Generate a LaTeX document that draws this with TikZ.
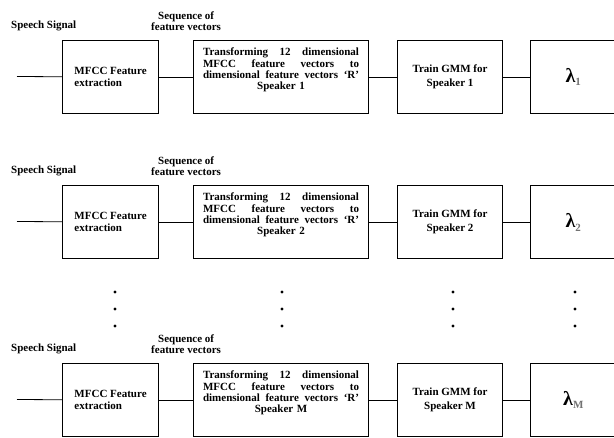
\documentclass[tikz,border=0pt]{standalone}
\usepackage{fontspec}
\setmainfont{Liberation Serif}
\usetikzlibrary{positioning}
\tikzset{
  blk/.style={draw,line width=1.1pt,minimum height=73pt,anchor=north west,inner sep=0pt},
  lbl/.style={font=\bfseries\fontsize{11}{11.4}\selectfont,align=center,inner sep=0pt},
  wire/.style={line width=0.8pt},
}

\begin{document}
\begin{tikzpicture}[x=1pt,y=-1pt]
\useasboundingbox (0,0) rectangle (614,438);
% one row per speaker
\foreach \r/\ty/\spk in {1/40/1,2/185/2,3/363/M}{
  \node[blk,minimum width=96pt,lbl,align=left] (mfcc\r) at (62,\ty) {MFCC Feature\\[1pt]extraction};
  \node[blk,minimum width=175pt] (trans\r) at (193,\ty) {};
  \node[lbl,text width=156pt] (transtxt\r) at ([yshift=7pt]trans\r.center)
    {\makebox[156pt]{Transforming\hfill 12\hfill dimensional}\\
     \makebox[156pt]{MFCC\hfill feature\hfill vectors\hfill to}\\
     \makebox[156pt]{dimensional\hfill feature\hfill vectors\hfill `R'}\\
     Speaker \spk};
  \node[blk,minimum width=105pt,lbl] (train\r) at (397,\ty) {Train GMM for\\[2.5pt]Speaker \spk};
  \node[blk,minimum width=86pt,font=\bfseries] (lam\r) at (530,\ty)
    {{\fontsize{20}{20}\selectfont λ}\textsubscript{\fontsize{11}{11}\selectfont\textcolor{black!55}{\spk}}};
  \coordinate (in\r) at (17,\ty+36.5);
  \node[lbl,anchor=south west] (sig\r) at (11,\ty-9) {Speech Signal};
  \node[lbl,anchor=south] (seq\r) at ([xshift=27pt,yshift=9pt]mfcc\r.north east) {Sequence of\\feature vectors};
  \draw[wire] (in\r) -- (mfcc\r);
  \draw[wire] (mfcc\r) -- (trans\r);
  \draw[wire] (trans\r) -- (train\r);
  \draw[wire] (train\r) -- (lam\r);
}
% dots between rows 2 and M
\foreach \x in {115,282,453,575}
  \foreach \y in {292,309,326}
    \fill (\x,\y) circle (1.6pt);
\end{tikzpicture}
\end{document}
